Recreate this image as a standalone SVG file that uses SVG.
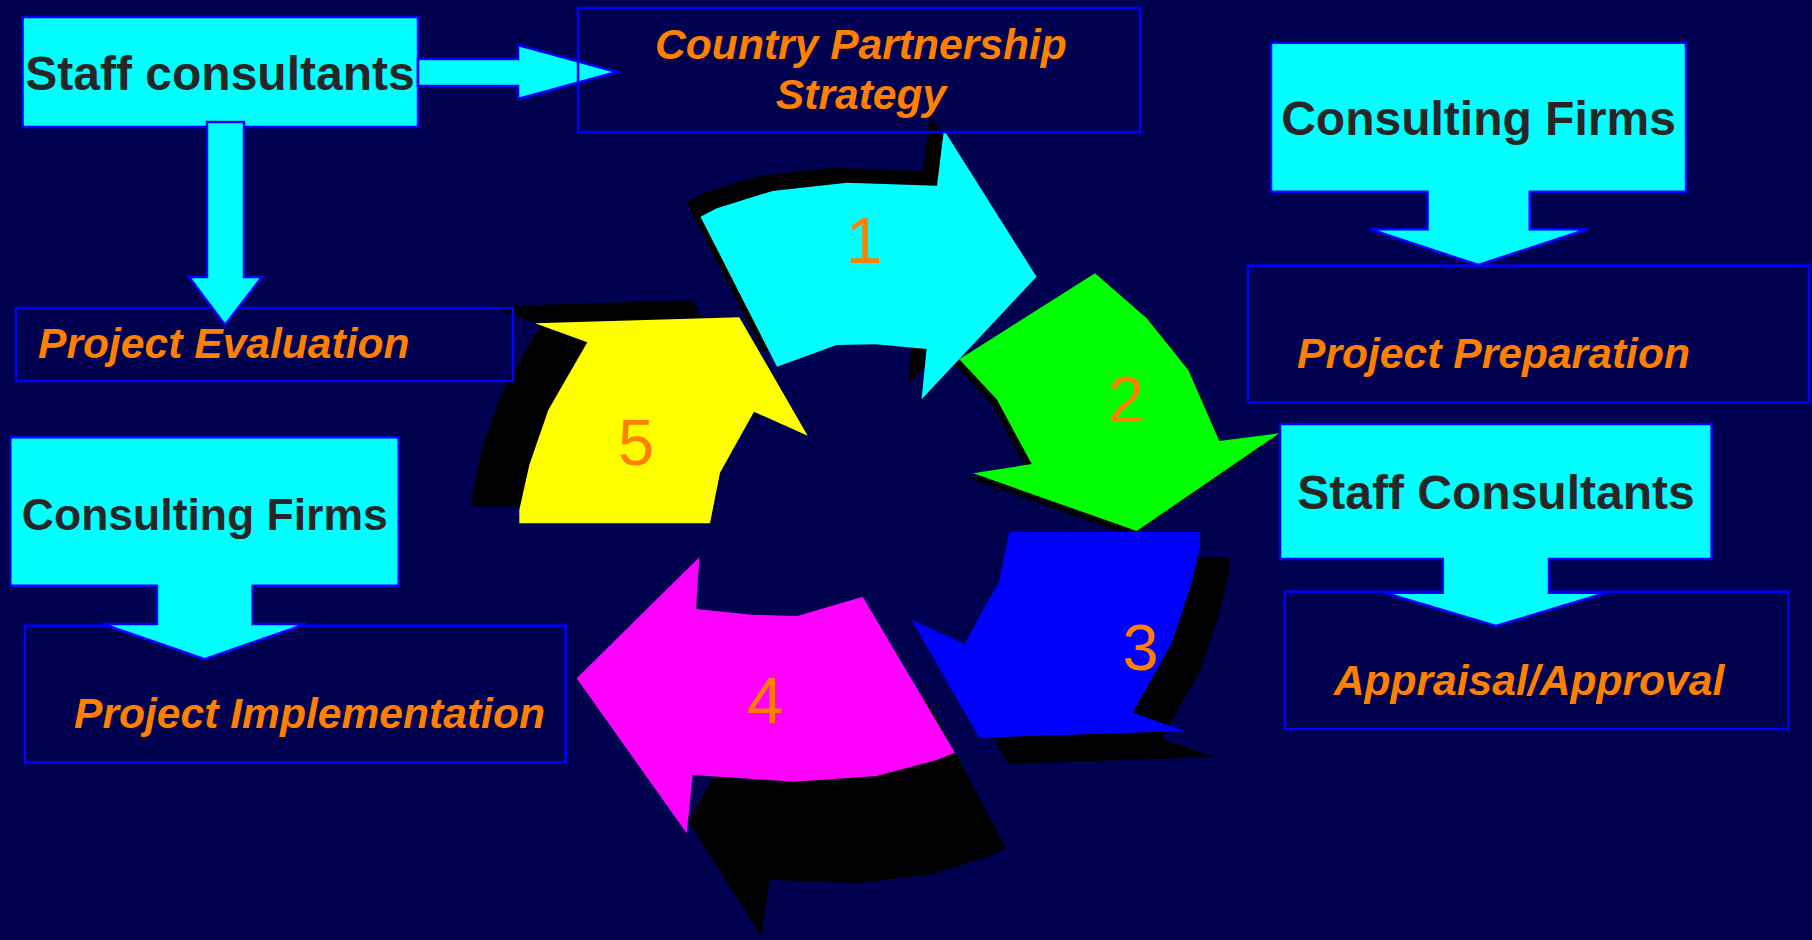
<svg xmlns="http://www.w3.org/2000/svg" width="1812" height="940" viewBox="0 0 1812 940">
<style>
.bg{fill:#000050}
.cy{fill:#00FFFF;stroke:#0000FF;stroke-width:2.5;stroke-linejoin:miter}
.frame{fill:none;stroke:#0000FF;stroke-width:2.5}
.sh{fill:#000000}
.dark{font-family:"Liberation Sans",Arial,sans-serif;font-weight:bold;fill:#262626}
.lab{font-family:"Liberation Sans",Arial,sans-serif;font-weight:bold;font-style:italic;font-size:42.6px;fill:#FF8000}
.num{font-family:"Liberation Sans",Arial,sans-serif;font-size:65px;fill:#FF8000;text-anchor:middle}
</style>
<defs>
<polygon id="a1" points="700.5,216.7 716.9,208.3 772.4,191 847,182.7 937,185.7 943.9,130 1036.5,276.7 921.6,399.3 926.6,349 875.7,344.3 836.7,345 777,366.7"/>
<polygon id="a2" points="1095,273.3 1146.7,318.3 1188.3,370 1219.3,441 1279.3,433.3 1136.7,531 973.3,473.3 1031.7,464 996.7,399.3 959.3,359.3"/>
<polygon id="a3" points="1009.3,532 1200,532 1200,546.7 1190.7,586 1171.7,643.3 1132.7,712.7 1185,731 979.3,737.7 911.7,620 965,644 985,606 999.3,581.7"/>
<polygon id="a5" points="535,323.3 739.3,317.3 807.7,435.7 754,411.7 720,472.7 710,523.3 519.3,523.3 519.3,510 529.3,465 548.3,410 587.3,342.3"/>
</defs>
<rect class="bg" x="0" y="0" width="1812" height="940"/>

<g id="shadows">
<use href="#a1" class="sh" transform="translate(-14,-15)"/>
<use href="#a2" class="sh" transform="translate(-5,5)"/>
<use href="#a3" class="sh" transform="translate(29,26)"/>
<polygon class="sh" points="926.7,698.3 1006,848.3 988.3,856.7 933.3,874 860,882.7 769.3,880 761.7,936.7 688.3,821.7 726.7,753.3 860,720"/>
<use href="#a5" class="sh" transform="translate(-47,-17)"/>
</g>

<g id="step1">
<use href="#a1" fill="#00FFFF"/>
<text class="num" x="864" y="263">1</text>
</g>
<g id="step2">
<use href="#a2" fill="#00FF00"/>
<text class="num" x="1126" y="421.5">2</text>
</g>
<g id="step3">
<use href="#a3" fill="#0000FF"/>
<text class="num" x="1140.5" y="669.5">3</text>
</g>
<g id="step4">
<polygon fill="#FF00FF" points="699.3,557.3 576.7,678.3 686.7,833.3 692.7,775 793.3,781.7 876.7,776 936.7,760 955,752.7 862.7,596.7 797.3,616 751.7,614.7 696,609"/>
<text class="num" x="765" y="723">4</text>
</g>
<g id="step5">
<use href="#a5" fill="#FFFF00"/>
<text class="num" x="636" y="465">5</text>
</g>

<g id="project-evaluation">
<rect class="frame" x="16" y="308" width="497" height="73"/>
<text class="lab" x="38" y="358">Project Evaluation</text>
</g>

<g id="project-preparation">
<rect class="frame" x="1248" y="265.7" width="561" height="136.6"/>
<text class="lab" x="1297" y="367.7">Project Preparation</text>
</g>

<g id="appraisal-approval">
<rect class="frame" x="1284.8" y="591.7" width="503.6" height="137.3"/>
<text class="lab" x="1529" y="695" text-anchor="middle">Appraisal/Approval</text>
</g>

<g id="project-implementation">
<rect class="frame" x="24.9" y="625.7" width="540.7" height="136.6"/>
<text class="lab" x="74" y="728.3">Project Implementation</text>
</g>

<g id="staff-consultants-top">
<rect class="cy" x="22.5" y="17" width="395.5" height="110"/>
<text class="dark" x="220" y="90" font-size="48" text-anchor="middle">Staff consultants</text>
</g>

<g id="connectors">
<polygon class="cy" points="418,59 518,59 518,45 617,72 518,99 518,86 418,86"/>
<polygon class="cy" points="207,122 244,122 244,277 262,277 225,325 189,277 207,277"/>
</g>

<g id="country-partnership-strategy">
<rect class="frame" x="578" y="8" width="562" height="124"/>
<text class="lab" x="861" y="59" text-anchor="middle">Country Partnership</text>
<text class="lab" x="861" y="109" text-anchor="middle">Strategy</text>
</g>

<g id="consulting-firms-right">
<polygon class="cy" points="1271,42.7 1686,42.7 1686,191.7 1529.8,191.7 1529.8,229.3 1587.6,229.3 1478.3,265 1369.8,229.3 1427.5,229.3 1427.5,191.7 1271,191.7"/>
<text class="dark" x="1478.5" y="135" font-size="48" text-anchor="middle">Consulting Firms</text>
</g>

<g id="staff-consultants-right">
<polygon class="cy" points="1280,424 1711.6,424 1711.6,559 1549,559 1549,592.7 1606.6,592.7 1495.9,626 1384.4,592.7 1442.8,592.7 1442.8,559 1280,559"/>
<text class="dark" x="1496" y="509" font-size="48" text-anchor="middle">Staff Consultants</text>
</g>

<g id="consulting-firms-left">
<polygon class="cy" points="10.3,437.3 398.8,437.3 398.8,585.7 252.6,585.7 252.6,624 306,624 204.7,659.3 102.6,624 157,624 157,585.7 10.3,585.7"/>
<text class="dark" x="204.8" y="530" font-size="44.5" text-anchor="middle">Consulting Firms</text>
</g>
</svg>
